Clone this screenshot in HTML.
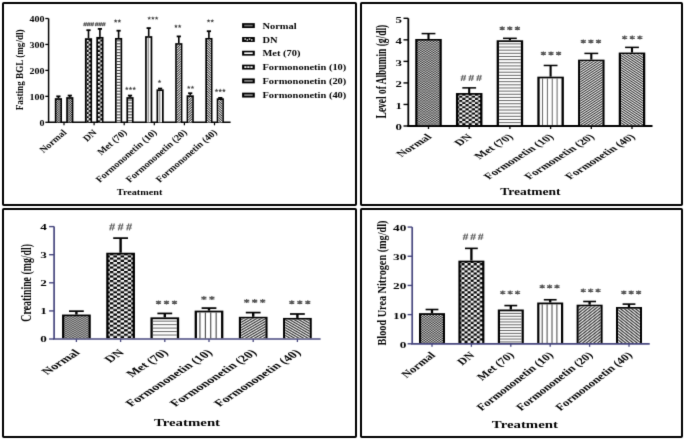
<!DOCTYPE html>
<html><head><meta charset="utf-8"><style>
html,body{margin:0;padding:0;background:#fff;width:685px;height:441px;overflow:hidden}
text{font-family:"Liberation Serif",serif;font-weight:bold}
svg{will-change:transform}
</style></head><body>
<svg width="685" height="441" viewBox="0 0 685 441" style="display:block">
<defs>
<pattern id="aN" width="2.4" height="2.2" patternUnits="userSpaceOnUse"><rect width="2.4" height="2.2" fill="#d0d0d0"/><rect width="1.2" height="1.1" fill="#2a2a2a"/><rect x="1.2" y="1.1" width="1.2" height="1.1" fill="#2a2a2a"/></pattern>
<pattern id="aDN" width="4.4" height="4.14" patternUnits="userSpaceOnUse" patternTransform="translate(1.7,0)"><rect width="4.4" height="4.14" fill="#000"/><rect width="2.2" height="2.07" fill="#fff"/><rect x="2.2" y="2.07" width="2.2" height="2.07" fill="#fff"/></pattern>
<pattern id="aMet" width="10" height="2.96" patternUnits="userSpaceOnUse"><rect width="10" height="2.96" fill="#fff"/><rect width="10" height="1.0" fill="#333"/></pattern>
<pattern id="aF10" width="10" height="10" patternUnits="userSpaceOnUse" patternTransform="translate(2.6,0)"><rect width="10" height="10" fill="#fff"/><rect width="1.5" height="10" fill="#999"/></pattern>
<pattern id="aF20" width="1.6" height="1.6" patternUnits="userSpaceOnUse" patternTransform="scale(1.15,1) rotate(45)"><rect width="1.6" height="1.6" fill="#fff"/><rect width="0.75" height="1.6" fill="#222"/></pattern>
<pattern id="aF40" width="1.6" height="1.6" patternUnits="userSpaceOnUse" patternTransform="scale(1.15,1) rotate(-45)"><rect width="1.6" height="1.6" fill="#fff"/><rect width="0.75" height="1.6" fill="#222"/></pattern>
<pattern id="bN" width="3.2" height="2.2" patternUnits="userSpaceOnUse"><rect width="3.2" height="2.2" fill="#d0d0d0"/><rect width="1.6" height="1.1" fill="#2a2a2a"/><rect x="1.6" y="1.1" width="1.6" height="1.1" fill="#2a2a2a"/></pattern>
<pattern id="bDN" width="6.34" height="4.2" patternUnits="userSpaceOnUse" patternTransform="translate(0,0)"><rect width="6.34" height="4.2" fill="#000"/><rect width="3.17" height="2.1" fill="#fff"/><rect x="3.17" y="2.1" width="3.17" height="2.1" fill="#fff"/></pattern>
<pattern id="bMet" width="10" height="2.83" patternUnits="userSpaceOnUse"><rect width="10" height="2.83" fill="#fff"/><rect width="10" height="1.0" fill="#555"/></pattern>
<pattern id="bF10" width="4.85" height="10" patternUnits="userSpaceOnUse" patternTransform="translate(0.4,0)"><rect width="4.85" height="10" fill="#fff"/><rect width="1.0" height="10" fill="#666"/></pattern>
<pattern id="bF20" width="1.4" height="1.4" patternUnits="userSpaceOnUse" patternTransform="scale(1.55,1) rotate(45)"><rect width="1.4" height="1.4" fill="#fff"/><rect width="0.65" height="1.4" fill="#222"/></pattern>
<pattern id="bF40" width="1.4" height="1.4" patternUnits="userSpaceOnUse" patternTransform="scale(1.55,1) rotate(-45)"><rect width="1.4" height="1.4" fill="#fff"/><rect width="0.65" height="1.4" fill="#222"/></pattern>
<pattern id="cN" width="3.4" height="2.3" patternUnits="userSpaceOnUse"><rect width="3.4" height="2.3" fill="#d0d0d0"/><rect width="1.7" height="1.15" fill="#2a2a2a"/><rect x="1.7" y="1.15" width="1.7" height="1.15" fill="#2a2a2a"/></pattern>
<pattern id="cDN" width="7.14" height="4.48" patternUnits="userSpaceOnUse" patternTransform="translate(0,0)"><rect width="7.14" height="4.48" fill="#000"/><rect width="3.57" height="2.24" fill="#fff"/><rect x="3.57" y="2.24" width="3.57" height="2.24" fill="#fff"/></pattern>
<pattern id="cMet" width="10" height="2.6" patternUnits="userSpaceOnUse"><rect width="10" height="2.6" fill="#fff"/><rect width="10" height="1.0" fill="#555"/></pattern>
<pattern id="cF10" width="5.4" height="10" patternUnits="userSpaceOnUse" patternTransform="translate(0.2,0)"><rect width="5.4" height="10" fill="#fff"/><rect width="1.0" height="10" fill="#666"/></pattern>
<pattern id="cF20" width="1.6" height="1.6" patternUnits="userSpaceOnUse" patternTransform="scale(1.52,1) rotate(45)"><rect width="1.6" height="1.6" fill="#fff"/><rect width="0.75" height="1.6" fill="#222"/></pattern>
<pattern id="cF40" width="1.6" height="1.6" patternUnits="userSpaceOnUse" patternTransform="scale(1.52,1) rotate(-45)"><rect width="1.6" height="1.6" fill="#fff"/><rect width="0.75" height="1.6" fill="#222"/></pattern>
<pattern id="dN" width="3.0" height="2.3" patternUnits="userSpaceOnUse"><rect width="3.0" height="2.3" fill="#d0d0d0"/><rect width="1.5" height="1.15" fill="#2a2a2a"/><rect x="1.5" y="1.15" width="1.5" height="1.15" fill="#2a2a2a"/></pattern>
<pattern id="dDN" width="6.12" height="4.7" patternUnits="userSpaceOnUse" patternTransform="translate(0,0)"><rect width="6.12" height="4.7" fill="#000"/><rect width="3.06" height="2.35" fill="#fff"/><rect x="3.06" y="2.35" width="3.06" height="2.35" fill="#fff"/></pattern>
<pattern id="dMet" width="10" height="2.6" patternUnits="userSpaceOnUse"><rect width="10" height="2.6" fill="#fff"/><rect width="10" height="1.0" fill="#555"/></pattern>
<pattern id="dF10" width="4.9" height="10" patternUnits="userSpaceOnUse" patternTransform="translate(0.3,0)"><rect width="4.9" height="10" fill="#fff"/><rect width="1.0" height="10" fill="#666"/></pattern>
<pattern id="dF20" width="1.8" height="1.8" patternUnits="userSpaceOnUse" patternTransform="scale(1.3,1) rotate(45)"><rect width="1.8" height="1.8" fill="#fff"/><rect width="0.8" height="1.8" fill="#222"/></pattern>
<pattern id="dF40" width="1.8" height="1.8" patternUnits="userSpaceOnUse" patternTransform="scale(1.3,1) rotate(-45)"><rect width="1.8" height="1.8" fill="#fff"/><rect width="0.8" height="1.8" fill="#222"/></pattern>
<filter id="bl" x="0" y="0" width="685" height="441" filterUnits="userSpaceOnUse" color-interpolation-filters="sRGB"><feConvolveMatrix order="3" kernelMatrix="0.01134 0.08382 0.01134 0.08382 0.61935 0.08382 0.01134 0.08382 0.01134" divisor="1" edgeMode="duplicate" preserveAlpha="true"/></filter>
</defs>
<g filter="url(#bl)">
<rect width="685" height="441" fill="#fff"/>
<rect x="3" y="3" width="353" height="202" rx="0.8" fill="none" stroke="#000" stroke-width="2"/>
<rect x="361" y="3" width="321" height="202" rx="0.8" fill="none" stroke="#000" stroke-width="2"/>
<rect x="3" y="209" width="353" height="228" rx="0.8" fill="none" stroke="#000" stroke-width="2"/>
<rect x="361" y="209" width="321" height="228" rx="0.8" fill="none" stroke="#000" stroke-width="2"/>
<line x1="48.6" y1="18.50" x2="48.6" y2="122.3" stroke="#000" stroke-width="1.5"/>
<line x1="45.3" y1="122.30" x2="48.6" y2="122.30" stroke="#000" stroke-width="1.3"/>
<text transform="translate(44.40,125.70) scale(1.150,1.000)" font-size="8.7" text-anchor="end" fill="#000" >0</text>
<line x1="45.3" y1="96.35" x2="48.6" y2="96.35" stroke="#000" stroke-width="1.3"/>
<text transform="translate(44.40,99.75) scale(1.150,1.000)" font-size="8.7" text-anchor="end" fill="#000" >100</text>
<line x1="45.3" y1="70.40" x2="48.6" y2="70.40" stroke="#000" stroke-width="1.3"/>
<text transform="translate(44.40,73.80) scale(1.150,1.000)" font-size="8.7" text-anchor="end" fill="#000" >200</text>
<line x1="45.3" y1="44.45" x2="48.6" y2="44.45" stroke="#000" stroke-width="1.3"/>
<text transform="translate(44.40,47.85) scale(1.150,1.000)" font-size="8.7" text-anchor="end" fill="#000" >300</text>
<line x1="45.3" y1="18.50" x2="48.6" y2="18.50" stroke="#000" stroke-width="1.3"/>
<text transform="translate(44.40,21.90) scale(1.150,1.000)" font-size="8.7" text-anchor="end" fill="#000" >400</text>
<line x1="47.9" y1="122.3" x2="230.6" y2="122.3" stroke="#000" stroke-width="1.5"/>
<line x1="64.00" y1="122.3" x2="64.00" y2="125.3" stroke="#000" stroke-width="1.2"/>
<rect x="57.60" y="96.35" width="1.60" height="1.82" fill="#000"/>
<rect x="56.30" y="95.45" width="4.20" height="1.80" fill="#000"/>
<rect x="54.80" y="98.17" width="7.20" height="24.13" fill="#000"/>
<linearGradient id="k1n0" gradientUnits="userSpaceOnUse" x1="56.50" y1="122.30" x2="57.596" y2="123.495" spreadMethod="repeat"><stop offset="0" stop-color="#111"/><stop offset="0.5" stop-color="#f4f4f4"/><stop offset="1" stop-color="#111"/></linearGradient>
<rect x="56.50" y="99.87" width="3.80" height="22.43" fill="url(#k1n0)" opacity="1"/>
<linearGradient id="k1n1" gradientUnits="userSpaceOnUse" x1="56.50" y1="122.30" x2="55.404" y2="123.495" spreadMethod="repeat"><stop offset="0" stop-color="#111"/><stop offset="0.5" stop-color="#f4f4f4"/><stop offset="1" stop-color="#111"/></linearGradient>
<rect x="56.50" y="99.87" width="3.80" height="22.43" fill="url(#k1n1)" opacity="0.5"/>
<rect x="69.00" y="95.57" width="1.60" height="1.56" fill="#000"/>
<rect x="67.70" y="94.67" width="4.20" height="1.80" fill="#000"/>
<rect x="66.20" y="97.13" width="7.20" height="25.17" fill="#000"/>
<linearGradient id="k2n0" gradientUnits="userSpaceOnUse" x1="67.90" y1="122.30" x2="68.996" y2="123.495" spreadMethod="repeat"><stop offset="0" stop-color="#111"/><stop offset="0.5" stop-color="#f4f4f4"/><stop offset="1" stop-color="#111"/></linearGradient>
<rect x="67.90" y="98.83" width="3.80" height="23.47" fill="url(#k2n0)" opacity="1"/>
<linearGradient id="k2n1" gradientUnits="userSpaceOnUse" x1="67.90" y1="122.30" x2="66.804" y2="123.495" spreadMethod="repeat"><stop offset="0" stop-color="#111"/><stop offset="0.5" stop-color="#f4f4f4"/><stop offset="1" stop-color="#111"/></linearGradient>
<rect x="67.90" y="98.83" width="3.80" height="23.47" fill="url(#k2n1)" opacity="0.5"/>
<line x1="94.10" y1="122.3" x2="94.10" y2="125.3" stroke="#000" stroke-width="1.2"/>
<rect x="87.70" y="30.18" width="1.60" height="8.04" fill="#000"/>
<rect x="86.40" y="29.28" width="4.20" height="1.80" fill="#000"/>
<rect x="84.90" y="38.22" width="7.20" height="84.08" fill="#000"/>
<g transform="translate(84.90,122.30)"><rect x="1.70" y="-82.38" width="3.80" height="82.38" fill="url(#aDN)"/></g>
<rect x="99.10" y="28.88" width="1.60" height="8.04" fill="#000"/>
<rect x="97.80" y="27.98" width="4.20" height="1.80" fill="#000"/>
<rect x="96.30" y="36.92" width="7.20" height="85.38" fill="#000"/>
<g transform="translate(96.30,122.30)"><rect x="1.70" y="-83.68" width="3.80" height="83.68" fill="url(#aDN)"/></g>
<line x1="124.20" y1="122.3" x2="124.20" y2="125.3" stroke="#000" stroke-width="1.2"/>
<rect x="117.80" y="30.70" width="1.60" height="7.27" fill="#000"/>
<rect x="116.50" y="29.80" width="4.20" height="1.80" fill="#000"/>
<rect x="115.00" y="37.96" width="7.20" height="84.34" fill="#000"/>
<rect x="116.70" y="39.66" width="3.80" height="82.64" fill="#fff"/>
<clipPath id="k3"><rect x="116.70" y="39.66" width="3.80" height="82.64"/></clipPath>
<path d="M115.70,40.86H121.50M115.70,43.82H121.50M115.70,46.78H121.50M115.70,49.74H121.50M115.70,52.70H121.50M115.70,55.66H121.50M115.70,58.62H121.50M115.70,61.58H121.50M115.70,64.54H121.50M115.70,67.50H121.50M115.70,70.46H121.50M115.70,73.42H121.50M115.70,76.38H121.50M115.70,79.34H121.50M115.70,82.30H121.50M115.70,85.26H121.50M115.70,88.22H121.50M115.70,91.18H121.50M115.70,94.14H121.50M115.70,97.10H121.50M115.70,100.06H121.50M115.70,103.02H121.50M115.70,105.98H121.50M115.70,108.94H121.50M115.70,111.90H121.50M115.70,114.86H121.50M115.70,117.82H121.50M115.70,120.78H121.50M115.70,123.74H121.50" stroke="#333" stroke-width="1.0" fill="none" clip-path="url(#k3)"/>
<rect x="129.20" y="95.57" width="1.60" height="1.56" fill="#000"/>
<rect x="127.90" y="94.67" width="4.20" height="1.80" fill="#000"/>
<rect x="126.40" y="97.13" width="7.20" height="25.17" fill="#000"/>
<rect x="128.10" y="98.83" width="3.80" height="23.47" fill="#fff"/>
<clipPath id="k4"><rect x="128.10" y="98.83" width="3.80" height="23.47"/></clipPath>
<path d="M127.10,100.03H132.90M127.10,102.99H132.90M127.10,105.95H132.90M127.10,108.91H132.90M127.10,111.87H132.90M127.10,114.83H132.90M127.10,117.79H132.90M127.10,120.75H132.90M127.10,123.71H132.90" stroke="#333" stroke-width="1.0" fill="none" clip-path="url(#k4)"/>
<line x1="154.30" y1="122.3" x2="154.30" y2="125.3" stroke="#000" stroke-width="1.2"/>
<rect x="147.90" y="28.10" width="1.60" height="8.04" fill="#000"/>
<rect x="146.60" y="27.20" width="4.20" height="1.80" fill="#000"/>
<rect x="145.10" y="36.15" width="7.20" height="86.15" fill="#000"/>
<rect x="146.80" y="37.85" width="3.80" height="84.45" fill="#fff"/>
<clipPath id="k5"><rect x="146.80" y="37.85" width="3.80" height="84.45"/></clipPath>
<path d="M148.30,36.85V123.30M158.30,36.85V123.30" stroke="#999" stroke-width="1.4" fill="none" clip-path="url(#k5)"/>
<rect x="159.30" y="88.56" width="1.60" height="0.78" fill="#000"/>
<rect x="158.00" y="87.66" width="4.20" height="1.80" fill="#000"/>
<rect x="156.50" y="89.34" width="7.20" height="32.96" fill="#000"/>
<rect x="158.20" y="91.04" width="3.80" height="31.26" fill="#fff"/>
<clipPath id="k6"><rect x="158.20" y="91.04" width="3.80" height="31.26"/></clipPath>
<path d="M159.70,90.04V123.30M169.70,90.04V123.30" stroke="#999" stroke-width="1.4" fill="none" clip-path="url(#k6)"/>
<line x1="184.40" y1="122.3" x2="184.40" y2="125.3" stroke="#000" stroke-width="1.2"/>
<rect x="178.00" y="36.41" width="1.60" height="6.75" fill="#000"/>
<rect x="176.70" y="35.51" width="4.20" height="1.80" fill="#000"/>
<rect x="175.20" y="43.15" width="7.20" height="79.15" fill="#000"/>
<rect x="176.90" y="44.85" width="3.80" height="77.45" fill="#fff"/>
<clipPath id="k7"><rect x="176.90" y="44.85" width="3.80" height="77.45"/></clipPath>
<linearGradient id="k7g" gradientUnits="userSpaceOnUse" x1="176.90" y1="122.30" x2="178.093" y2="123.625" spreadMethod="repeat"><stop offset="0" stop-color="#2a2a2a"/><stop offset="0.5" stop-color="#fafafa"/><stop offset="1" stop-color="#2a2a2a"/></linearGradient>
<rect x="176.90" y="44.85" width="3.80" height="77.45" fill="url(#k7g)"/>
<rect x="189.40" y="93.24" width="1.60" height="2.08" fill="#000"/>
<rect x="188.10" y="92.34" width="4.20" height="1.80" fill="#000"/>
<rect x="186.60" y="95.31" width="7.20" height="26.99" fill="#000"/>
<rect x="188.30" y="97.01" width="3.80" height="25.29" fill="#fff"/>
<clipPath id="k8"><rect x="188.30" y="97.01" width="3.80" height="25.29"/></clipPath>
<linearGradient id="k8g" gradientUnits="userSpaceOnUse" x1="188.30" y1="122.30" x2="189.493" y2="123.625" spreadMethod="repeat"><stop offset="0" stop-color="#2a2a2a"/><stop offset="0.5" stop-color="#fafafa"/><stop offset="1" stop-color="#2a2a2a"/></linearGradient>
<rect x="188.30" y="97.01" width="3.80" height="25.29" fill="url(#k8g)"/>
<line x1="214.50" y1="122.3" x2="214.50" y2="125.3" stroke="#000" stroke-width="1.2"/>
<rect x="208.10" y="31.22" width="1.60" height="6.75" fill="#000"/>
<rect x="206.80" y="30.32" width="4.20" height="1.80" fill="#000"/>
<rect x="205.30" y="37.96" width="7.20" height="84.34" fill="#000"/>
<rect x="207.00" y="39.66" width="3.80" height="82.64" fill="#fff"/>
<clipPath id="k9"><rect x="207.00" y="39.66" width="3.80" height="82.64"/></clipPath>
<linearGradient id="k9g" gradientUnits="userSpaceOnUse" x1="207.00" y1="122.30" x2="205.807" y2="123.625" spreadMethod="repeat"><stop offset="0" stop-color="#2a2a2a"/><stop offset="0.5" stop-color="#fafafa"/><stop offset="1" stop-color="#2a2a2a"/></linearGradient>
<rect x="207.00" y="39.66" width="3.80" height="82.64" fill="url(#k9g)"/>
<rect x="219.50" y="97.91" width="1.60" height="0.39" fill="#000"/>
<rect x="218.20" y="97.01" width="4.20" height="1.80" fill="#000"/>
<rect x="216.70" y="98.30" width="7.20" height="24.00" fill="#000"/>
<rect x="218.40" y="100.00" width="3.80" height="22.30" fill="#fff"/>
<clipPath id="k10"><rect x="218.40" y="100.00" width="3.80" height="22.30"/></clipPath>
<linearGradient id="k10g" gradientUnits="userSpaceOnUse" x1="218.40" y1="122.30" x2="217.207" y2="123.625" spreadMethod="repeat"><stop offset="0" stop-color="#2a2a2a"/><stop offset="0.5" stop-color="#fafafa"/><stop offset="1" stop-color="#2a2a2a"/></linearGradient>
<rect x="218.40" y="100.00" width="3.80" height="22.30" fill="url(#k10g)"/>
<path d="M83.80,26.15L84.91,22.45M85.39,26.15L86.50,22.45M87.35,26.15L88.46,22.45M88.94,26.15L90.05,22.45M90.90,26.15L92.01,22.45M92.49,26.15L93.60,22.45" stroke="#555" stroke-width="1.03" fill="none"/>
<path d="M83.35,23.63L86.95,23.63M83.35,24.97L86.95,24.97M86.90,23.63L90.50,23.63M86.90,24.97L90.50,24.97M90.45,23.63L94.05,23.63M90.45,24.97L94.05,24.97" stroke="#555" stroke-width="0.68" fill="none"/>
<path d="M95.30,26.15L96.41,22.45M96.89,26.15L98.00,22.45M98.85,26.15L99.96,22.45M100.44,26.15L101.55,22.45M102.40,26.15L103.51,22.45M103.99,26.15L105.10,22.45" stroke="#555" stroke-width="1.03" fill="none"/>
<path d="M94.85,23.63L98.45,23.63M94.85,24.97L98.45,24.97M98.40,23.63L102.00,23.63M98.40,24.97L102.00,24.97M101.95,23.63L105.55,23.63M101.95,24.97L105.55,24.97" stroke="#555" stroke-width="0.68" fill="none"/>
<polygon points="115.65,19.10 116.18,20.37 117.55,20.48 116.51,21.38 116.83,22.72 115.65,22.00 114.47,22.72 114.79,21.38 113.75,20.48 115.12,20.37" fill="#444"/>
<polygon points="119.35,19.10 119.88,20.37 121.25,20.48 120.21,21.38 120.53,22.72 119.35,22.00 118.17,22.72 118.49,21.38 117.45,20.48 118.82,20.37" fill="#444"/>
<polygon points="126.80,86.50 127.33,87.77 128.70,87.88 127.66,88.78 127.98,90.12 126.80,89.40 125.62,90.12 125.94,88.78 124.90,87.88 126.27,87.77" fill="#444"/>
<polygon points="130.50,86.50 131.03,87.77 132.40,87.88 131.36,88.78 131.68,90.12 130.50,89.40 129.32,90.12 129.64,88.78 128.60,87.88 129.97,87.77" fill="#444"/>
<polygon points="134.20,86.50 134.73,87.77 136.10,87.88 135.06,88.78 135.38,90.12 134.20,89.40 133.02,90.12 133.34,88.78 132.30,87.88 133.67,87.77" fill="#444"/>
<polygon points="149.20,16.20 149.73,17.47 151.10,17.58 150.06,18.48 150.38,19.82 149.20,19.10 148.02,19.82 148.34,18.48 147.30,17.58 148.67,17.47" fill="#444"/>
<polygon points="152.90,16.20 153.43,17.47 154.80,17.58 153.76,18.48 154.08,19.82 152.90,19.10 151.72,19.82 152.04,18.48 151.00,17.58 152.37,17.47" fill="#444"/>
<polygon points="156.60,16.20 157.13,17.47 158.50,17.58 157.46,18.48 157.78,19.82 156.60,19.10 155.42,19.82 155.74,18.48 154.70,17.58 156.07,17.47" fill="#444"/>
<polygon points="159.50,79.50 160.03,80.77 161.40,80.88 160.36,81.78 160.68,83.12 159.50,82.40 158.32,83.12 158.64,81.78 157.60,80.88 158.97,80.77" fill="#444"/>
<polygon points="175.95,24.30 176.48,25.57 177.85,25.68 176.81,26.58 177.13,27.92 175.95,27.20 174.77,27.92 175.09,26.58 174.05,25.68 175.42,25.57" fill="#444"/>
<polygon points="179.65,24.30 180.18,25.57 181.55,25.68 180.51,26.58 180.83,27.92 179.65,27.20 178.47,27.92 178.79,26.58 177.75,25.68 179.12,25.57" fill="#444"/>
<polygon points="188.75,85.40 189.28,86.67 190.65,86.78 189.61,87.68 189.93,89.02 188.75,88.30 187.57,89.02 187.89,87.68 186.85,86.78 188.22,86.67" fill="#444"/>
<polygon points="192.45,85.40 192.98,86.67 194.35,86.78 193.31,87.68 193.63,89.02 192.45,88.30 191.27,89.02 191.59,87.68 190.55,86.78 191.92,86.67" fill="#444"/>
<polygon points="208.55,18.90 209.08,20.17 210.45,20.28 209.41,21.18 209.73,22.52 208.55,21.80 207.37,22.52 207.69,21.18 206.65,20.28 208.02,20.17" fill="#444"/>
<polygon points="212.25,18.90 212.78,20.17 214.15,20.28 213.11,21.18 213.43,22.52 212.25,21.80 211.07,22.52 211.39,21.18 210.35,20.28 211.72,20.17" fill="#444"/>
<polygon points="216.50,88.60 217.03,89.87 218.40,89.98 217.36,90.88 217.68,92.22 216.50,91.50 215.32,92.22 215.64,90.88 214.60,89.98 215.97,89.87" fill="#444"/>
<polygon points="220.20,88.60 220.73,89.87 222.10,89.98 221.06,90.88 221.38,92.22 220.20,91.50 219.02,92.22 219.34,90.88 218.30,89.98 219.67,89.87" fill="#444"/>
<polygon points="223.90,88.60 224.43,89.87 225.80,89.98 224.76,90.88 225.08,92.22 223.90,91.50 222.72,92.22 223.04,90.88 222.00,89.98 223.37,89.87" fill="#444"/>
<text transform="translate(23.20,69.80) scale(1.150,1.000) rotate(-90)" font-size="9.17" text-anchor="middle" fill="#000" >Fasting BGL (mg/dl)</text>
<text transform="translate(67.20,133.00) scale(1.160,1.000) rotate(-45)" font-size="8.8" text-anchor="end" fill="#000" >Normal</text>
<text transform="translate(97.30,133.00) scale(1.160,1.000) rotate(-45)" font-size="8.8" text-anchor="end" fill="#000" >DN</text>
<text transform="translate(127.40,133.00) scale(1.160,1.000) rotate(-45)" font-size="8.8" text-anchor="end" fill="#000" >Met (70)</text>
<text transform="translate(157.50,133.00) scale(1.160,1.000) rotate(-45)" font-size="8.8" text-anchor="end" fill="#000" >Formononetin (10)</text>
<text transform="translate(187.60,133.00) scale(1.160,1.000) rotate(-45)" font-size="8.8" text-anchor="end" fill="#000" >Formononetin (20)</text>
<text transform="translate(217.70,133.00) scale(1.160,1.000) rotate(-45)" font-size="8.8" text-anchor="end" fill="#000" >Formononetin (40)</text>
<text transform="translate(139.60,194.60) scale(1.110,1.000)" font-size="9.2" text-anchor="middle" fill="#000" >Treatment</text>
<rect x="242.1" y="23.15" width="12.7" height="4.9" fill="#000"/>
<rect x="244.2" y="24.75" width="8.50" height="1.70" fill="#777"/>
<text transform="translate(262.40,28.60) scale(1.150,1.000)" font-size="9.1" text-anchor="start" fill="#000" >Normal</text>
<rect x="242.1" y="37.05" width="12.7" height="4.9" fill="#000"/>
<rect x="244.4" y="38.35" width="1.5" height="1.4" fill="#fff"/>
<rect x="246.6" y="39.25" width="1.5" height="1.4" fill="#fff"/>
<rect x="248.8" y="38.35" width="1.5" height="1.4" fill="#fff"/>
<rect x="251.0" y="39.25" width="1.5" height="1.4" fill="#fff"/>
<text transform="translate(262.40,42.50) scale(1.150,1.000)" font-size="9.1" text-anchor="start" fill="#000" >DN</text>
<rect x="242.1" y="50.75" width="12.7" height="4.9" fill="#000"/>
<rect x="244.2" y="52.35" width="8.50" height="1.70" fill="#fff"/>
<text transform="translate(262.40,56.20) scale(1.150,1.000)" font-size="9.1" text-anchor="start" fill="#000" >Met (70)</text>
<rect x="242.1" y="64.65" width="12.7" height="4.9" fill="#000"/>
<rect x="244.3" y="66.25" width="2.2" height="1.70" fill="#fff"/>
<rect x="247.3" y="66.25" width="2.2" height="1.70" fill="#fff"/>
<rect x="250.4" y="66.25" width="2.2" height="1.70" fill="#fff"/>
<text transform="translate(262.40,70.10) scale(1.150,1.000)" font-size="9.1" text-anchor="start" fill="#000" >Formononetin (10)</text>
<rect x="242.1" y="78.45" width="12.7" height="4.9" fill="#000"/>
<rect x="244.2" y="80.05" width="8.50" height="1.70" fill="#888"/>
<text transform="translate(262.40,83.90) scale(1.150,1.000)" font-size="9.1" text-anchor="start" fill="#000" >Formononetin (20)</text>
<rect x="242.1" y="92.65" width="12.7" height="4.9" fill="#000"/>
<rect x="244.2" y="94.25" width="8.50" height="1.70" fill="#888"/>
<text transform="translate(262.40,98.10) scale(1.150,1.000)" font-size="9.1" text-anchor="start" fill="#000" >Formononetin (40)</text>
<line x1="408.3" y1="18.30" x2="408.3" y2="126.0" stroke="#000" stroke-width="1.8"/>
<line x1="403.5" y1="126.00" x2="408.3" y2="126.00" stroke="#000" stroke-width="1.4"/>
<text transform="translate(401.80,130.40) scale(1.550,1.000)" font-size="8.3" text-anchor="end" fill="#000" >0</text>
<line x1="403.5" y1="104.46" x2="408.3" y2="104.46" stroke="#000" stroke-width="1.4"/>
<text transform="translate(401.80,108.86) scale(1.550,1.000)" font-size="8.3" text-anchor="end" fill="#000" >1</text>
<line x1="403.5" y1="82.92" x2="408.3" y2="82.92" stroke="#000" stroke-width="1.4"/>
<text transform="translate(401.80,87.32) scale(1.550,1.000)" font-size="8.3" text-anchor="end" fill="#000" >2</text>
<line x1="403.5" y1="61.38" x2="408.3" y2="61.38" stroke="#000" stroke-width="1.4"/>
<text transform="translate(401.80,65.78) scale(1.550,1.000)" font-size="8.3" text-anchor="end" fill="#000" >3</text>
<line x1="403.5" y1="39.84" x2="408.3" y2="39.84" stroke="#000" stroke-width="1.4"/>
<text transform="translate(401.80,44.24) scale(1.550,1.000)" font-size="8.3" text-anchor="end" fill="#000" >4</text>
<line x1="403.5" y1="18.30" x2="408.3" y2="18.30" stroke="#000" stroke-width="1.4"/>
<text transform="translate(401.80,22.70) scale(1.550,1.000)" font-size="8.3" text-anchor="end" fill="#000" >5</text>
<line x1="407.3" y1="126.0" x2="652.5" y2="126.0" stroke="#000" stroke-width="1.8"/>
<line x1="428.50" y1="126.0" x2="428.50" y2="129.0" stroke="#000" stroke-width="1.3"/>
<line x1="469.20" y1="126.0" x2="469.20" y2="129.0" stroke="#000" stroke-width="1.3"/>
<line x1="509.90" y1="126.0" x2="509.90" y2="129.0" stroke="#000" stroke-width="1.3"/>
<line x1="550.60" y1="126.0" x2="550.60" y2="129.0" stroke="#000" stroke-width="1.3"/>
<line x1="591.30" y1="126.0" x2="591.30" y2="129.0" stroke="#000" stroke-width="1.3"/>
<line x1="632.00" y1="126.0" x2="632.00" y2="129.0" stroke="#000" stroke-width="1.3"/>
<rect x="427.45" y="33.59" width="2.10" height="5.39" fill="#000"/>
<rect x="421.60" y="32.84" width="13.80" height="1.50" fill="#000"/>
<rect x="415.25" y="38.98" width="26.50" height="86.12" fill="#000"/>
<linearGradient id="k11n0" gradientUnits="userSpaceOnUse" x1="417.55" y1="125.10" x2="418.577" y2="126.594" spreadMethod="repeat"><stop offset="0" stop-color="#111"/><stop offset="0.5" stop-color="#f4f4f4"/><stop offset="1" stop-color="#111"/></linearGradient>
<rect x="417.55" y="40.68" width="21.90" height="84.42" fill="url(#k11n0)" opacity="1"/>
<linearGradient id="k11n1" gradientUnits="userSpaceOnUse" x1="417.55" y1="125.10" x2="416.523" y2="126.594" spreadMethod="repeat"><stop offset="0" stop-color="#111"/><stop offset="0.5" stop-color="#f4f4f4"/><stop offset="1" stop-color="#111"/></linearGradient>
<rect x="417.55" y="40.68" width="21.90" height="84.42" fill="url(#k11n1)" opacity="0.5"/>
<rect x="468.15" y="87.87" width="2.10" height="5.17" fill="#000"/>
<rect x="462.30" y="87.12" width="13.80" height="1.50" fill="#000"/>
<rect x="455.95" y="93.04" width="26.50" height="32.06" fill="#000"/>
<g transform="translate(455.95,125.10)"><rect x="2.30" y="-30.36" width="21.90" height="30.36" fill="url(#bDN)"/></g>
<rect x="508.85" y="38.33" width="2.10" height="1.94" fill="#000"/>
<rect x="503.00" y="37.58" width="13.80" height="1.50" fill="#000"/>
<rect x="496.65" y="40.27" width="26.50" height="84.83" fill="#000"/>
<rect x="498.95" y="41.97" width="21.90" height="83.13" fill="#fff"/>
<clipPath id="k12"><rect x="498.95" y="41.97" width="21.90" height="83.13"/></clipPath>
<path d="M497.95,43.87H521.85M497.95,47.02H521.85M497.95,50.17H521.85M497.95,53.32H521.85M497.95,56.47H521.85M497.95,59.62H521.85M497.95,62.77H521.85M497.95,65.92H521.85M497.95,69.07H521.85M497.95,72.22H521.85M497.95,75.37H521.85M497.95,78.52H521.85M497.95,81.67H521.85M497.95,84.82H521.85M497.95,87.97H521.85M497.95,91.12H521.85M497.95,94.27H521.85M497.95,97.42H521.85M497.95,100.57H521.85M497.95,103.72H521.85M497.95,106.87H521.85M497.95,110.02H521.85M497.95,113.17H521.85M497.95,116.32H521.85M497.95,119.47H521.85M497.95,122.62H521.85M497.95,125.77H521.85" stroke="#666" stroke-width="1.0" fill="none" clip-path="url(#k12)"/>
<rect x="549.55" y="65.47" width="2.10" height="11.20" fill="#000"/>
<rect x="543.70" y="64.72" width="13.80" height="1.50" fill="#000"/>
<rect x="537.35" y="76.67" width="26.50" height="48.43" fill="#000"/>
<rect x="539.65" y="78.37" width="21.90" height="46.73" fill="#fff"/>
<clipPath id="k13"><rect x="539.65" y="78.37" width="21.90" height="46.73"/></clipPath>
<path d="M542.55,77.37V126.10M547.40,77.37V126.10M552.25,77.37V126.10M557.10,77.37V126.10M561.95,77.37V126.10" stroke="#666" stroke-width="1.0" fill="none" clip-path="url(#k13)"/>
<rect x="590.25" y="53.41" width="2.10" height="6.25" fill="#000"/>
<rect x="584.40" y="52.66" width="13.80" height="1.50" fill="#000"/>
<rect x="578.05" y="59.66" width="26.50" height="65.44" fill="#000"/>
<rect x="580.35" y="61.36" width="21.90" height="63.74" fill="#fff"/>
<clipPath id="k14"><rect x="580.35" y="61.36" width="21.90" height="63.74"/></clipPath>
<linearGradient id="k14g" gradientUnits="userSpaceOnUse" x1="580.35" y1="125.10" x2="581.446" y2="126.788" spreadMethod="repeat"><stop offset="0" stop-color="#2a2a2a"/><stop offset="0.5" stop-color="#fafafa"/><stop offset="1" stop-color="#2a2a2a"/></linearGradient>
<rect x="580.35" y="61.36" width="21.90" height="63.74" fill="url(#k14g)"/>
<rect x="630.95" y="47.38" width="2.10" height="5.17" fill="#000"/>
<rect x="625.10" y="46.63" width="13.80" height="1.50" fill="#000"/>
<rect x="618.75" y="52.55" width="26.50" height="72.55" fill="#000"/>
<rect x="621.05" y="54.25" width="21.90" height="70.85" fill="#fff"/>
<clipPath id="k15"><rect x="621.05" y="54.25" width="21.90" height="70.85"/></clipPath>
<linearGradient id="k15g" gradientUnits="userSpaceOnUse" x1="621.05" y1="125.10" x2="619.954" y2="126.788" spreadMethod="repeat"><stop offset="0" stop-color="#2a2a2a"/><stop offset="0.5" stop-color="#fafafa"/><stop offset="1" stop-color="#2a2a2a"/></linearGradient>
<rect x="621.05" y="54.25" width="21.90" height="70.85" fill="url(#k15g)"/>
<path d="M461.27,80.80L463.01,75.00M463.69,80.80L465.43,75.00M469.12,80.80L470.86,75.00M471.54,80.80L473.28,75.00M476.97,80.80L478.71,75.00M479.39,80.80L481.13,75.00" stroke="#666" stroke-width="1.15" fill="none"/>
<path d="M460.60,76.86L466.10,76.86M460.60,78.94L466.10,78.94M468.45,76.86L473.95,76.86M468.45,78.94L473.95,78.94M476.30,76.86L481.80,76.86M476.30,78.94L481.80,78.94" stroke="#666" stroke-width="0.75" fill="none"/>
<path d="M502.20,26.30L502.20,30.30M499.69,27.30L504.71,29.30M504.71,27.30L499.69,29.30" stroke="#555" stroke-width="1.25" fill="none"/>
<path d="M509.80,26.30L509.80,30.30M507.29,27.30L512.31,29.30M512.31,27.30L507.29,29.30" stroke="#555" stroke-width="1.25" fill="none"/>
<path d="M517.40,26.30L517.40,30.30M514.89,27.30L519.91,29.30M519.91,27.30L514.89,29.30" stroke="#555" stroke-width="1.25" fill="none"/>
<path d="M543.40,51.40L543.40,55.40M540.89,52.40L545.91,54.40M545.91,52.40L540.89,54.40" stroke="#555" stroke-width="1.25" fill="none"/>
<path d="M551.00,51.40L551.00,55.40M548.49,52.40L553.51,54.40M553.51,52.40L548.49,54.40" stroke="#555" stroke-width="1.25" fill="none"/>
<path d="M558.60,51.40L558.60,55.40M556.09,52.40L561.11,54.40M561.11,52.40L556.09,54.40" stroke="#555" stroke-width="1.25" fill="none"/>
<path d="M583.30,39.40L583.30,43.40M580.79,40.40L585.81,42.40M585.81,40.40L580.79,42.40" stroke="#555" stroke-width="1.25" fill="none"/>
<path d="M590.90,39.40L590.90,43.40M588.39,40.40L593.41,42.40M593.41,40.40L588.39,42.40" stroke="#555" stroke-width="1.25" fill="none"/>
<path d="M598.50,39.40L598.50,43.40M595.99,40.40L601.01,42.40M601.01,40.40L595.99,42.40" stroke="#555" stroke-width="1.25" fill="none"/>
<path d="M624.70,35.50L624.70,39.50M622.19,36.50L627.21,38.50M627.21,36.50L622.19,38.50" stroke="#555" stroke-width="1.25" fill="none"/>
<path d="M632.30,35.50L632.30,39.50M629.79,36.50L634.81,38.50M634.81,36.50L629.79,38.50" stroke="#555" stroke-width="1.25" fill="none"/>
<path d="M639.90,35.50L639.90,39.50M637.39,36.50L642.41,38.50M642.41,36.50L637.39,38.50" stroke="#555" stroke-width="1.25" fill="none"/>
<text transform="translate(386.00,71.60) scale(1.500,1.000) rotate(-90)" font-size="9.45" text-anchor="middle" fill="#000" >Level of Albumin (g/dl)</text>
<text transform="translate(432.40,137.40) scale(1.550,1.000) rotate(-45)" font-size="8.6" text-anchor="end" fill="#000" >Normal</text>
<text transform="translate(473.10,137.40) scale(1.550,1.000) rotate(-45)" font-size="8.6" text-anchor="end" fill="#000" >DN</text>
<text transform="translate(513.80,137.40) scale(1.550,1.000) rotate(-45)" font-size="8.6" text-anchor="end" fill="#000" >Met (70)</text>
<text transform="translate(554.50,137.40) scale(1.550,1.000) rotate(-45)" font-size="8.6" text-anchor="end" fill="#000" >Formonetin (10)</text>
<text transform="translate(595.20,137.40) scale(1.550,1.000) rotate(-45)" font-size="8.6" text-anchor="end" fill="#000" >Formonetin (20)</text>
<text transform="translate(635.90,137.40) scale(1.550,1.000) rotate(-45)" font-size="8.6" text-anchor="end" fill="#000" >Formonetin (40)</text>
<text transform="translate(530.30,195.00) scale(1.440,1.000)" font-size="9.4" text-anchor="middle" fill="#000" >Treatment</text>
<line x1="54.1" y1="226.60" x2="54.1" y2="339.0" stroke="#46467e" stroke-width="1.7"/>
<line x1="49.1" y1="339.00" x2="54.1" y2="339.00" stroke="#46467e" stroke-width="1.4"/>
<text transform="translate(46.80,342.30) scale(1.600,1.000)" font-size="8.2" text-anchor="end" fill="#000" >0</text>
<line x1="49.1" y1="310.90" x2="54.1" y2="310.90" stroke="#46467e" stroke-width="1.4"/>
<text transform="translate(46.80,314.20) scale(1.600,1.000)" font-size="8.2" text-anchor="end" fill="#000" >1</text>
<line x1="49.1" y1="282.80" x2="54.1" y2="282.80" stroke="#46467e" stroke-width="1.4"/>
<text transform="translate(46.80,286.10) scale(1.600,1.000)" font-size="8.2" text-anchor="end" fill="#000" >2</text>
<line x1="49.1" y1="254.70" x2="54.1" y2="254.70" stroke="#46467e" stroke-width="1.4"/>
<text transform="translate(46.80,258.00) scale(1.600,1.000)" font-size="8.2" text-anchor="end" fill="#000" >3</text>
<line x1="49.1" y1="226.60" x2="54.1" y2="226.60" stroke="#46467e" stroke-width="1.4"/>
<text transform="translate(46.80,229.90) scale(1.600,1.000)" font-size="8.2" text-anchor="end" fill="#000" >4</text>
<line x1="53.1" y1="339.0" x2="320.6" y2="339.0" stroke="#46467e" stroke-width="1.7"/>
<line x1="76.40" y1="339.0" x2="76.40" y2="342.0" stroke="#46467e" stroke-width="1.3"/>
<line x1="120.60" y1="339.0" x2="120.60" y2="342.0" stroke="#46467e" stroke-width="1.3"/>
<line x1="164.80" y1="339.0" x2="164.80" y2="342.0" stroke="#46467e" stroke-width="1.3"/>
<line x1="209.00" y1="339.0" x2="209.00" y2="342.0" stroke="#46467e" stroke-width="1.3"/>
<line x1="253.20" y1="339.0" x2="253.20" y2="342.0" stroke="#46467e" stroke-width="1.3"/>
<line x1="297.40" y1="339.0" x2="297.40" y2="342.0" stroke="#46467e" stroke-width="1.3"/>
<rect x="75.20" y="311.18" width="2.40" height="3.37" fill="#000"/>
<rect x="69.00" y="310.33" width="14.80" height="1.70" fill="#000"/>
<rect x="62.05" y="314.55" width="28.70" height="23.60" fill="#000"/>
<linearGradient id="k16n0" gradientUnits="userSpaceOnUse" x1="64.35" y1="338.15" x2="65.212" y2="339.658" spreadMethod="repeat"><stop offset="0" stop-color="#111"/><stop offset="0.5" stop-color="#f4f4f4"/><stop offset="1" stop-color="#111"/></linearGradient>
<rect x="64.35" y="316.35" width="24.10" height="21.80" fill="url(#k16n0)" opacity="1"/>
<linearGradient id="k16n1" gradientUnits="userSpaceOnUse" x1="64.35" y1="338.15" x2="63.488" y2="339.658" spreadMethod="repeat"><stop offset="0" stop-color="#111"/><stop offset="0.5" stop-color="#f4f4f4"/><stop offset="1" stop-color="#111"/></linearGradient>
<rect x="64.35" y="316.35" width="24.10" height="21.80" fill="url(#k16n1)" opacity="0.5"/>
<rect x="119.40" y="238.12" width="2.40" height="14.61" fill="#000"/>
<rect x="113.20" y="237.27" width="14.80" height="1.70" fill="#000"/>
<rect x="106.25" y="252.73" width="28.70" height="85.42" fill="#000"/>
<g transform="translate(106.25,338.15)"><rect x="2.30" y="-83.62" width="24.10" height="83.62" fill="url(#cDN)"/></g>
<rect x="163.60" y="313.43" width="2.40" height="3.93" fill="#000"/>
<rect x="157.40" y="312.58" width="14.80" height="1.70" fill="#000"/>
<rect x="150.45" y="317.36" width="28.70" height="20.79" fill="#000"/>
<rect x="152.75" y="319.16" width="24.10" height="18.99" fill="#fff"/>
<clipPath id="k17"><rect x="152.75" y="319.16" width="24.10" height="18.99"/></clipPath>
<path d="M151.75,321.16H177.85M151.75,324.63H177.85M151.75,328.10H177.85M151.75,331.57H177.85M151.75,335.04H177.85M151.75,338.51H177.85" stroke="#666" stroke-width="1.0" fill="none" clip-path="url(#k17)"/>
<rect x="207.80" y="308.09" width="2.40" height="2.53" fill="#000"/>
<rect x="201.60" y="307.24" width="14.80" height="1.70" fill="#000"/>
<rect x="194.65" y="310.62" width="28.70" height="27.53" fill="#000"/>
<rect x="196.95" y="312.42" width="24.10" height="25.73" fill="#fff"/>
<clipPath id="k18"><rect x="196.95" y="312.42" width="24.10" height="25.73"/></clipPath>
<path d="M199.95,311.42V339.15M205.35,311.42V339.15M210.75,311.42V339.15M216.15,311.42V339.15M221.55,311.42V339.15" stroke="#333" stroke-width="1.0" fill="none" clip-path="url(#k18)"/>
<rect x="252.00" y="312.59" width="2.40" height="4.21" fill="#000"/>
<rect x="245.80" y="311.74" width="14.80" height="1.70" fill="#000"/>
<rect x="238.85" y="316.80" width="28.70" height="21.35" fill="#000"/>
<rect x="241.15" y="318.60" width="24.10" height="19.55" fill="#fff"/>
<clipPath id="k19"><rect x="241.15" y="318.60" width="24.10" height="19.55"/></clipPath>
<linearGradient id="k19g" gradientUnits="userSpaceOnUse" x1="241.15" y1="338.15" x2="242.296" y2="340.111" spreadMethod="repeat"><stop offset="0" stop-color="#2a2a2a"/><stop offset="0.5" stop-color="#fafafa"/><stop offset="1" stop-color="#2a2a2a"/></linearGradient>
<rect x="241.15" y="318.60" width="24.10" height="19.55" fill="url(#k19g)"/>
<rect x="296.20" y="313.99" width="2.40" height="3.93" fill="#000"/>
<rect x="290.00" y="313.14" width="14.80" height="1.70" fill="#000"/>
<rect x="283.05" y="317.93" width="28.70" height="20.22" fill="#000"/>
<rect x="285.35" y="319.73" width="24.10" height="18.42" fill="#fff"/>
<clipPath id="k20"><rect x="285.35" y="319.73" width="24.10" height="18.42"/></clipPath>
<linearGradient id="k20g" gradientUnits="userSpaceOnUse" x1="285.35" y1="338.15" x2="284.204" y2="340.111" spreadMethod="repeat"><stop offset="0" stop-color="#2a2a2a"/><stop offset="0.5" stop-color="#fafafa"/><stop offset="1" stop-color="#2a2a2a"/></linearGradient>
<rect x="285.35" y="319.73" width="24.10" height="18.42" fill="url(#k20g)"/>
<path d="M109.85,230.30L111.89,223.50M112.31,230.30L114.35,223.50M118.35,230.30L120.39,223.50M120.81,230.30L122.85,223.50M126.85,230.30L128.89,223.50M129.31,230.30L131.35,223.50" stroke="#666" stroke-width="1.15" fill="none"/>
<path d="M109.30,225.68L114.90,225.68M109.30,228.12L114.90,228.12M117.80,225.68L123.40,225.68M117.80,228.12L123.40,228.12M126.30,225.68L131.90,225.68M126.30,228.12L131.90,228.12" stroke="#666" stroke-width="0.75" fill="none"/>
<path d="M158.50,300.40L158.50,304.40M155.99,301.40L161.01,303.40M161.01,301.40L155.99,303.40" stroke="#555" stroke-width="1.25" fill="none"/>
<path d="M166.50,300.40L166.50,304.40M163.99,301.40L169.01,303.40M169.01,301.40L163.99,303.40" stroke="#555" stroke-width="1.25" fill="none"/>
<path d="M174.50,300.40L174.50,304.40M171.99,301.40L177.01,303.40M177.01,301.40L171.99,303.40" stroke="#555" stroke-width="1.25" fill="none"/>
<path d="M203.90,296.10L203.90,300.10M201.39,297.10L206.41,299.10M206.41,297.10L201.39,299.10" stroke="#555" stroke-width="1.25" fill="none"/>
<path d="M211.90,296.10L211.90,300.10M209.39,297.10L214.41,299.10M214.41,297.10L209.39,299.10" stroke="#555" stroke-width="1.25" fill="none"/>
<path d="M246.70,299.10L246.70,303.10M244.19,300.10L249.21,302.10M249.21,300.10L244.19,302.10" stroke="#555" stroke-width="1.25" fill="none"/>
<path d="M254.70,299.10L254.70,303.10M252.19,300.10L257.21,302.10M257.21,300.10L252.19,302.10" stroke="#555" stroke-width="1.25" fill="none"/>
<path d="M262.70,299.10L262.70,303.10M260.19,300.10L265.21,302.10M265.21,300.10L260.19,302.10" stroke="#555" stroke-width="1.25" fill="none"/>
<path d="M291.80,300.30L291.80,304.30M289.29,301.30L294.31,303.30M294.31,301.30L289.29,303.30" stroke="#555" stroke-width="1.25" fill="none"/>
<path d="M299.80,300.30L299.80,304.30M297.29,301.30L302.31,303.30M302.31,301.30L297.29,303.30" stroke="#555" stroke-width="1.25" fill="none"/>
<path d="M307.80,300.30L307.80,304.30M305.29,301.30L310.31,303.30M310.31,301.30L305.29,303.30" stroke="#555" stroke-width="1.25" fill="none"/>
<text transform="translate(30.60,282.80) scale(1.450,1.000) rotate(-90)" font-size="9.85" text-anchor="middle" fill="#000" >Creatinine (mg/dl)</text>
<text transform="translate(80.60,353.20) scale(1.520,1.000) rotate(-45)" font-size="9.5" text-anchor="end" fill="#000" >Normal</text>
<text transform="translate(124.80,353.20) scale(1.520,1.000) rotate(-45)" font-size="9.5" text-anchor="end" fill="#000" >DN</text>
<text transform="translate(169.00,353.20) scale(1.520,1.000) rotate(-45)" font-size="9.5" text-anchor="end" fill="#000" >Met (70)</text>
<text transform="translate(213.20,353.20) scale(1.520,1.000) rotate(-45)" font-size="9.5" text-anchor="end" fill="#000" >Formononetin (10)</text>
<text transform="translate(257.40,353.20) scale(1.520,1.000) rotate(-45)" font-size="9.5" text-anchor="end" fill="#000" >Formononetin (20)</text>
<text transform="translate(301.60,353.20) scale(1.520,1.000) rotate(-45)" font-size="9.5" text-anchor="end" fill="#000" >Formononetin (40)</text>
<text transform="translate(187.00,426.20) scale(1.400,1.000)" font-size="10.6" text-anchor="middle" fill="#000" >Treatment</text>
<line x1="412.2" y1="227.08" x2="412.2" y2="343.8" stroke="#46467e" stroke-width="1.7"/>
<line x1="407.6" y1="343.80" x2="412.2" y2="343.80" stroke="#46467e" stroke-width="1.4"/>
<text transform="translate(406.30,347.70) scale(1.600,1.000)" font-size="8.3" text-anchor="end" fill="#000" >0</text>
<line x1="407.6" y1="314.62" x2="412.2" y2="314.62" stroke="#46467e" stroke-width="1.4"/>
<text transform="translate(406.30,318.52) scale(1.600,1.000)" font-size="8.3" text-anchor="end" fill="#000" >10</text>
<line x1="407.6" y1="285.44" x2="412.2" y2="285.44" stroke="#46467e" stroke-width="1.4"/>
<text transform="translate(406.30,289.34) scale(1.600,1.000)" font-size="8.3" text-anchor="end" fill="#000" >20</text>
<line x1="407.6" y1="256.26" x2="412.2" y2="256.26" stroke="#46467e" stroke-width="1.4"/>
<text transform="translate(406.30,260.16) scale(1.600,1.000)" font-size="8.3" text-anchor="end" fill="#000" >30</text>
<line x1="407.6" y1="227.08" x2="412.2" y2="227.08" stroke="#46467e" stroke-width="1.4"/>
<text transform="translate(406.30,230.98) scale(1.600,1.000)" font-size="8.3" text-anchor="end" fill="#000" >40</text>
<line x1="411.2" y1="343.8" x2="649.7" y2="343.8" stroke="#46467e" stroke-width="1.7"/>
<line x1="432.00" y1="343.8" x2="432.00" y2="346.8" stroke="#46467e" stroke-width="1.3"/>
<line x1="471.40" y1="343.8" x2="471.40" y2="346.8" stroke="#46467e" stroke-width="1.3"/>
<line x1="510.80" y1="343.8" x2="510.80" y2="346.8" stroke="#46467e" stroke-width="1.3"/>
<line x1="550.20" y1="343.8" x2="550.20" y2="346.8" stroke="#46467e" stroke-width="1.3"/>
<line x1="589.60" y1="343.8" x2="589.60" y2="346.8" stroke="#46467e" stroke-width="1.3"/>
<line x1="629.00" y1="343.8" x2="629.00" y2="346.8" stroke="#46467e" stroke-width="1.3"/>
<rect x="430.85" y="309.51" width="2.30" height="3.65" fill="#000"/>
<rect x="425.60" y="308.71" width="12.80" height="1.60" fill="#000"/>
<rect x="419.00" y="313.16" width="26.00" height="29.79" fill="#000"/>
<linearGradient id="k21n0" gradientUnits="userSpaceOnUse" x1="421.20" y1="342.95" x2="422.311" y2="344.399" spreadMethod="repeat"><stop offset="0" stop-color="#111"/><stop offset="0.5" stop-color="#f4f4f4"/><stop offset="1" stop-color="#111"/></linearGradient>
<rect x="421.20" y="314.96" width="21.60" height="27.99" fill="url(#k21n0)" opacity="1"/>
<linearGradient id="k21n1" gradientUnits="userSpaceOnUse" x1="421.20" y1="342.95" x2="420.089" y2="344.399" spreadMethod="repeat"><stop offset="0" stop-color="#111"/><stop offset="0.5" stop-color="#f4f4f4"/><stop offset="1" stop-color="#111"/></linearGradient>
<rect x="421.20" y="314.96" width="21.60" height="27.99" fill="url(#k21n1)" opacity="0.5"/>
<rect x="470.25" y="248.38" width="2.30" height="12.26" fill="#000"/>
<rect x="465.00" y="247.58" width="12.80" height="1.60" fill="#000"/>
<rect x="458.40" y="260.64" width="26.00" height="82.31" fill="#000"/>
<g transform="translate(458.40,342.95)"><rect x="2.20" y="-80.51" width="21.60" height="80.51" fill="url(#dDN)"/></g>
<rect x="509.65" y="305.57" width="2.30" height="3.94" fill="#000"/>
<rect x="504.40" y="304.77" width="12.80" height="1.60" fill="#000"/>
<rect x="497.80" y="309.51" width="26.00" height="33.44" fill="#000"/>
<rect x="500.00" y="311.31" width="21.60" height="31.64" fill="#fff"/>
<clipPath id="k22"><rect x="500.00" y="311.31" width="21.60" height="31.64"/></clipPath>
<path d="M499.00,313.41H522.60M499.00,316.26H522.60M499.00,319.11H522.60M499.00,321.96H522.60M499.00,324.81H522.60M499.00,327.66H522.60M499.00,330.51H522.60M499.00,333.36H522.60M499.00,336.21H522.60M499.00,339.06H522.60M499.00,341.91H522.60M499.00,344.76H522.60" stroke="#666" stroke-width="1.0" fill="none" clip-path="url(#k22)"/>
<rect x="549.05" y="299.74" width="2.30" height="2.77" fill="#000"/>
<rect x="543.80" y="298.94" width="12.80" height="1.60" fill="#000"/>
<rect x="537.20" y="302.51" width="26.00" height="40.44" fill="#000"/>
<rect x="539.40" y="304.31" width="21.60" height="38.64" fill="#fff"/>
<clipPath id="k23"><rect x="539.40" y="304.31" width="21.60" height="38.64"/></clipPath>
<path d="M542.20,303.31V343.95M547.10,303.31V343.95M552.00,303.31V343.95M556.90,303.31V343.95M561.80,303.31V343.95" stroke="#444" stroke-width="1.0" fill="none" clip-path="url(#k23)"/>
<rect x="588.45" y="301.49" width="2.30" height="3.21" fill="#000"/>
<rect x="583.20" y="300.69" width="12.80" height="1.60" fill="#000"/>
<rect x="576.60" y="304.70" width="26.00" height="38.25" fill="#000"/>
<rect x="578.80" y="306.50" width="21.60" height="36.45" fill="#fff"/>
<clipPath id="k24"><rect x="578.80" y="306.50" width="21.60" height="36.45"/></clipPath>
<linearGradient id="k24g" gradientUnits="userSpaceOnUse" x1="578.80" y1="342.95" x2="580.262" y2="344.787" spreadMethod="repeat"><stop offset="0" stop-color="#2a2a2a"/><stop offset="0.5" stop-color="#fafafa"/><stop offset="1" stop-color="#2a2a2a"/></linearGradient>
<rect x="578.80" y="306.50" width="21.60" height="36.45" fill="url(#k24g)"/>
<rect x="627.85" y="304.12" width="2.30" height="2.92" fill="#000"/>
<rect x="622.60" y="303.32" width="12.80" height="1.60" fill="#000"/>
<rect x="616.00" y="307.03" width="26.00" height="35.92" fill="#000"/>
<rect x="618.20" y="308.83" width="21.60" height="34.12" fill="#fff"/>
<clipPath id="k25"><rect x="618.20" y="308.83" width="21.60" height="34.12"/></clipPath>
<linearGradient id="k25g" gradientUnits="userSpaceOnUse" x1="618.20" y1="342.95" x2="616.738" y2="344.787" spreadMethod="repeat"><stop offset="0" stop-color="#2a2a2a"/><stop offset="0.5" stop-color="#fafafa"/><stop offset="1" stop-color="#2a2a2a"/></linearGradient>
<rect x="618.20" y="308.83" width="21.60" height="34.12" fill="url(#k25g)"/>
<path d="M463.38,239.90L465.24,233.70M465.76,239.90L467.62,233.70M470.98,239.90L472.84,233.70M473.36,239.90L475.22,233.70M478.58,239.90L480.44,233.70M480.96,239.90L482.82,233.70" stroke="#666" stroke-width="1.15" fill="none"/>
<path d="M462.80,235.68L468.20,235.68M462.80,237.92L468.20,237.92M470.40,235.68L475.80,235.68M470.40,237.92L475.80,237.92M478.00,235.68L483.40,235.68M478.00,237.92L483.40,237.92" stroke="#666" stroke-width="0.75" fill="none"/>
<path d="M502.80,290.50L502.80,294.50M500.29,291.50L505.31,293.50M505.31,291.50L500.29,293.50" stroke="#555" stroke-width="1.25" fill="none"/>
<path d="M510.20,290.50L510.20,294.50M507.69,291.50L512.71,293.50M512.71,291.50L507.69,293.50" stroke="#555" stroke-width="1.25" fill="none"/>
<path d="M517.60,290.50L517.60,294.50M515.09,291.50L520.11,293.50M520.11,291.50L515.09,293.50" stroke="#555" stroke-width="1.25" fill="none"/>
<path d="M542.20,284.60L542.20,288.60M539.69,285.60L544.71,287.60M544.71,285.60L539.69,287.60" stroke="#555" stroke-width="1.25" fill="none"/>
<path d="M549.60,284.60L549.60,288.60M547.09,285.60L552.11,287.60M552.11,285.60L547.09,287.60" stroke="#555" stroke-width="1.25" fill="none"/>
<path d="M557.00,284.60L557.00,288.60M554.49,285.60L559.51,287.60M559.51,285.60L554.49,287.60" stroke="#555" stroke-width="1.25" fill="none"/>
<path d="M583.30,288.50L583.30,292.50M580.79,289.50L585.81,291.50M585.81,289.50L580.79,291.50" stroke="#555" stroke-width="1.25" fill="none"/>
<path d="M590.70,288.50L590.70,292.50M588.19,289.50L593.21,291.50M593.21,289.50L588.19,291.50" stroke="#555" stroke-width="1.25" fill="none"/>
<path d="M598.10,288.50L598.10,292.50M595.59,289.50L600.61,291.50M600.61,289.50L595.59,291.50" stroke="#555" stroke-width="1.25" fill="none"/>
<path d="M623.80,290.40L623.80,294.40M621.29,291.40L626.31,293.40M626.31,291.40L621.29,293.40" stroke="#555" stroke-width="1.25" fill="none"/>
<path d="M631.20,290.40L631.20,294.40M628.69,291.40L633.71,293.40M633.71,291.40L628.69,293.40" stroke="#555" stroke-width="1.25" fill="none"/>
<path d="M638.60,290.40L638.60,294.40M636.09,291.40L641.11,293.40M641.11,291.40L636.09,293.40" stroke="#555" stroke-width="1.25" fill="none"/>
<text transform="translate(386.00,283.00) scale(1.300,1.000) rotate(-90)" font-size="10.25" text-anchor="middle" fill="#000" >Blood Urea Nitrogen (mg/dl)</text>
<text transform="translate(435.90,355.70) scale(1.300,1.000) rotate(-45)" font-size="9.8" text-anchor="end" fill="#000" >Normal</text>
<text transform="translate(475.30,355.70) scale(1.300,1.000) rotate(-45)" font-size="9.8" text-anchor="end" fill="#000" >DN</text>
<text transform="translate(514.70,355.70) scale(1.300,1.000) rotate(-45)" font-size="9.8" text-anchor="end" fill="#000" >Met (70)</text>
<text transform="translate(554.10,355.70) scale(1.300,1.000) rotate(-45)" font-size="9.8" text-anchor="end" fill="#000" >Formononetin (10)</text>
<text transform="translate(593.50,355.70) scale(1.300,1.000) rotate(-45)" font-size="9.8" text-anchor="end" fill="#000" >Formononetin (20)</text>
<text transform="translate(632.90,355.70) scale(1.300,1.000) rotate(-45)" font-size="9.8" text-anchor="end" fill="#000" >Formononetin (40)</text>
<text transform="translate(524.90,428.00) scale(1.400,1.000)" font-size="10.6" text-anchor="middle" fill="#000" >Treatment</text>
</g>
</svg>
</body></html>
